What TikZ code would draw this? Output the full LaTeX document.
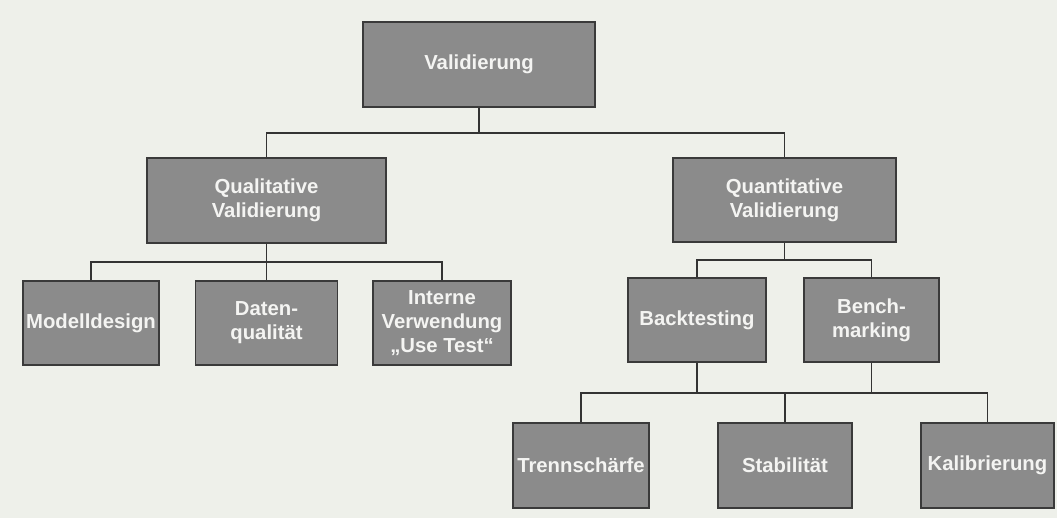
\documentclass[tikz,border=0pt]{standalone}
\usepackage{fontspec}
\setmainfont{Liberation Sans}
\definecolor{paper}{HTML}{EEF0EA}
\definecolor{boxfill}{HTML}{8B8B8B}
\definecolor{boxline}{HTML}{3A3A3A}
\definecolor{boxtext}{HTML}{F4F4F2}
\definecolor{wire}{HTML}{333333}
\begin{document}
\begin{tikzpicture}[x=1pt,y=-1pt,
  box/.style={draw=boxline, line width=1.3pt, fill=boxfill, text=boxtext,
    font=\fontsize{20.3}{24}\selectfont\bfseries, align=center, inner sep=0pt,
    minimum height=84pt},
  wirel/.style={draw=wire, line width=1.2pt}]
\fill[paper] (0,0) rectangle (1057,518);
\useasboundingbox (0,0) rectangle (1057,518);

\node[box, minimum width=232pt, minimum height=85pt] (val) at (479,64.5) {Validierung};
\node[box, minimum width=239pt, minimum height=85pt] (qual) at (266.5,200.5) {Qualitative\\Validierung};
\node[box, minimum width=223pt] (quant) at (784.5,200) {Quantitative\\Validierung};

\node[box, minimum width=136pt] (model) at (91,323) {Modelldesign};
\node[box, minimum width=142pt] (daten) at (266.5,323) {Daten-\\qualität};
\node[box, minimum width=138pt] (intern) at (442,323) {Interne\\Verwendung\\„Use Test“};

\node[box, minimum width=138pt] (back) at (697,320) {Backtesting};
\node[box, minimum width=135pt] (bench) at (871.5,320) {Bench-\\marking};

\node[box, minimum width=136pt, minimum height=85pt] (trenn) at (581,465.5) {Trennschärfe};
\node[box, minimum width=134pt, minimum height=85pt] (stab) at (785,465.5) {Stabilität};
\node[box, minimum width=133pt, minimum height=85pt] (kal) at (987.5,465.5) {Kalibrierung};

\coordinate (b1) at (479,133);
\coordinate (b2) at (266.5,262);
\coordinate (b3) at (784.5,260);
\coordinate (b4) at (785,393);

\draw[wirel] (val.south) -- (b1);
\draw[wirel] (qual.north) |- (b1) -| (quant.north);

\draw[wirel] (qual.south) -- (daten.north);
\draw[wirel] (model.north) |- (b2) -| (intern.north);

\draw[wirel] (quant.south) -- (b3);
\draw[wirel] (back.north) |- (b3) -| (bench.north);

\draw[wirel] (back.south) -- (back.south |- b4);
\draw[wirel] (bench.south) -- (bench.south |- b4);
\draw[wirel] (trenn.north) |- (b4) -| (kal.north);
\draw[wirel] (b4) -- (stab.north);
\end{tikzpicture}
\end{document}
